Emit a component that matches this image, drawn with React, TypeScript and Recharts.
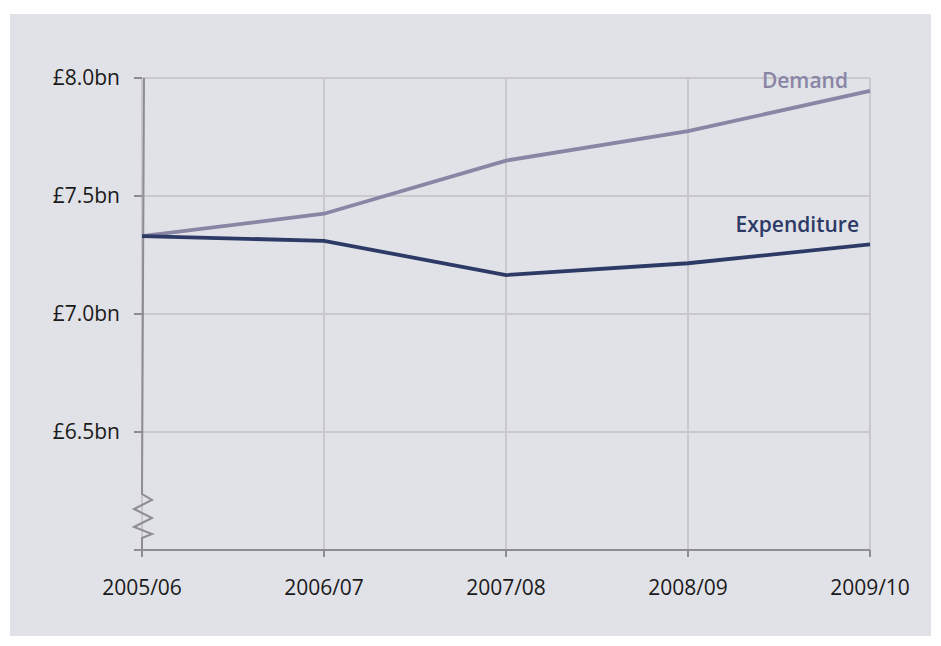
import { LineChart, Line, XAxis, YAxis, CartesianGrid, ReferenceLine } from 'recharts'

const years = ['2005/06', '2006/07', '2007/08', '2008/09', '2009/10']
const demand = [7.33, 7.425, 7.65, 7.775, 7.945]
const expenditure = [7.33, 7.31, 7.165, 7.215, 7.295]
const yTicks = [6, 6.5, 7, 7.5, 8]
const yTickLabels = ['', '£6.5bn', '£7.0bn', '£7.5bn', '£8.0bn']

const data = years.map((year, i) => ({ year, demand: demand[i], expenditure: expenditure[i] }))

const FONT = '"Open Sans", sans-serif'
const AXIS = '#8d8d92'
const GRID = '#c8c8cd'

// axis line with a zigzag break near the bottom
const BrokenAxis = (props: any) => {
  const { x1, y1, y2 } = props
  const x = x1
  const pts: [number, number][] = [
    [0, -56], [10, -50], [-8, -41], [10, -32], [-8, -23], [10, -16], [0, -12], [0, 0],
  ]
  const d = `M${x + 2},${y1} L${x},${y2 - 56} ` + pts.map(([dx, dy]) => `L${x + dx},${y2 + dy}`).join(' ')
  return <path d={d} fill="none" stroke={AXIS} strokeWidth={2} />
}

const endLabel = (text: string, color: string, dx: number, dy: number) => (props: any) => {
  if (props.index !== years.length - 1) return null
  return (
    <text x={props.x + dx} y={props.y + dy} textAnchor="end" fill={color} fontFamily={FONT} fontSize={21} fontWeight={600}>
      {text}
    </text>
  )
}

export default function App() {
  return (
    <div style={{ position: 'absolute', left: 0, top: 0, width: 941, height: 646, background: '#ffffff' }}>
      <div style={{ position: 'absolute', left: 10, top: 14, width: 921, height: 622, background: '#e1e2e7' }} />
      <div style={{ position: 'absolute', left: 0, top: 0 }}>
        <LineChart width={941} height={646} data={data} margin={{ top: 78, right: 71, bottom: 36, left: 82 }}>
          <CartesianGrid stroke={GRID} strokeWidth={2} />
          <XAxis
            dataKey="year"
            padding={{ left: 0, right: 0 }}
            axisLine={{ stroke: AXIS, strokeWidth: 2 }}
            tickLine={{ stroke: AXIS, strokeWidth: 2 }}
            tickSize={7}
            tickMargin={23}
            height={60}
            tick={{ fill: '#1a1a1a', fontSize: 21, fontFamily: FONT }}
          />
          <YAxis
            domain={[6, 8]}
            ticks={yTicks}
            width={60}
            axisLine={false}
            tickLine={{ stroke: AXIS, strokeWidth: 2 }}
            tickSize={8}
            tickMargin={14}
            tickFormatter={(v: number) => yTickLabels[yTicks.indexOf(v)]}
            tick={{ fill: '#1a1a1a', fontSize: 21, fontFamily: FONT }}
          />
          <ReferenceLine
            segment={[{ x: years[0], y: 8 }, { x: years[0], y: 6 }]}
            shape={BrokenAxis}
          />
          <Line
            dataKey="demand"
            stroke="#8985a5"
            strokeWidth={3.8}
            dot={false}
            isAnimationActive={false}
            label={endLabel('Demand', '#8985a5', -22, -3)}
          />
          <Line
            dataKey="expenditure"
            stroke="#2d3a66"
            strokeWidth={3.8}
            dot={false}
            isAnimationActive={false}
            label={endLabel('Expenditure', '#2d3a66', -11, -12)}
          />
        </LineChart>
      </div>
    </div>
  )
}
